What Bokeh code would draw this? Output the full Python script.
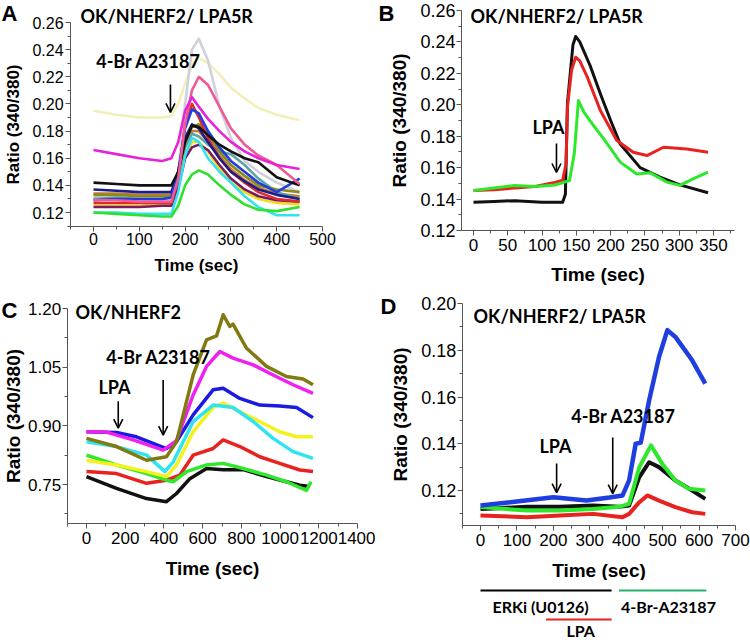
from bokeh.plotting import figure
from bokeh.models import Range1d, FixedTicker, PrintfTickFormatter, Label, Arrow, OpenHead
from bokeh.layouts import row, column
from bokeh.embed import file_html
from bokeh.resources import INLINE
from bokeh.core.properties import value

# ---------------- DATA ----------------
# Panel A (time grid shared by all traces)
A_TIME = [0, 50, 100, 150, 170, 185, 200, 215, 230, 250, 275, 300, 330, 360, 400, 450]
A_PALEYELLOW = [0.195, 0.192, 0.190, 0.190, 0.191, 0.200, 0.215, 0.228, 0.234, 0.230, 0.222, 0.212, 0.204, 0.197, 0.192, 0.188]
A_LIGHTGRAY = [0.131, 0.131, 0.130, 0.130, 0.130, 0.150, 0.200, 0.240, 0.248, 0.232, 0.198, 0.175, 0.158, 0.150, 0.142, 0.135]
A_SIENNA = [0.134, 0.134, 0.133, 0.133, 0.133, 0.146, 0.170, 0.180, 0.180, 0.172, 0.162, 0.152, 0.144, 0.138, 0.134, 0.132]
A_TEAL = [0.130, 0.131, 0.130, 0.130, 0.131, 0.145, 0.168, 0.178, 0.176, 0.170, 0.165, 0.163, 0.155, 0.145, 0.135, 0.130]
A_OLIVE = [0.133, 0.133, 0.132, 0.132, 0.132, 0.145, 0.172, 0.183, 0.185, 0.178, 0.165, 0.155, 0.147, 0.140, 0.137, 0.135]
A_YELLOW = [0.125, 0.125, 0.125, 0.126, 0.126, 0.140, 0.160, 0.172, 0.172, 0.165, 0.152, 0.142, 0.135, 0.130, 0.127, 0.126]
A_PURPLE = [0.124, 0.124, 0.124, 0.125, 0.125, 0.138, 0.160, 0.168, 0.170, 0.166, 0.155, 0.145, 0.137, 0.132, 0.129, 0.128]
A_RED = [0.127, 0.127, 0.127, 0.127, 0.127, 0.145, 0.185, 0.200, 0.190, 0.175, 0.160, 0.150, 0.142, 0.135, 0.130, 0.128]
A_NAVY = [0.137, 0.136, 0.135, 0.135, 0.135, 0.150, 0.175, 0.185, 0.182, 0.172, 0.160, 0.150, 0.143, 0.137, 0.133, 0.130]
A_BLUE = [0.129, 0.130, 0.130, 0.130, 0.131, 0.150, 0.182, 0.196, 0.193, 0.180, 0.168, 0.158, 0.150, 0.142, 0.135, 0.145]
A_BLACK = [0.142, 0.141, 0.140, 0.140, 0.140, 0.150, 0.172, 0.184, 0.183, 0.177, 0.170, 0.165, 0.160, 0.157, 0.146, 0.140]
A_HOTPINK = [0.129, 0.129, 0.128, 0.128, 0.128, 0.145, 0.185, 0.210, 0.220, 0.214, 0.198, 0.182, 0.170, 0.162, 0.155, 0.141]
A_MAGENTA = [0.166, 0.163, 0.160, 0.158, 0.160, 0.172, 0.195, 0.205, 0.198, 0.189, 0.180, 0.172, 0.165, 0.160, 0.155, 0.152]
A_CYAN = [0.120, 0.120, 0.119, 0.119, 0.119, 0.135, 0.162, 0.175, 0.172, 0.160, 0.150, 0.142, 0.132, 0.124, 0.118, 0.118]
A_GREEN = [0.120, 0.119, 0.118, 0.117, 0.117, 0.125, 0.140, 0.148, 0.151, 0.148, 0.140, 0.133, 0.126, 0.122, 0.121, 0.124]

# Panel B
B_BLACK_T = [0, 30, 60, 100, 130, 134, 137, 145, 149, 155, 170, 185, 200, 214, 243, 272, 301, 342]
B_BLACK_V = [0.138, 0.1385, 0.139, 0.138, 0.138, 0.143, 0.201, 0.238, 0.2435, 0.240, 0.225, 0.207, 0.190, 0.175, 0.160, 0.154, 0.149, 0.144]
B_RED_T = [0, 30, 60, 90, 120, 130, 135, 137, 143, 149, 155, 166, 185, 209, 233, 253, 277, 311, 342]
B_RED_V = [0.1455, 0.146, 0.147, 0.148, 0.1508, 0.152, 0.1626, 0.1985, 0.222, 0.2303, 0.228, 0.2176, 0.1964, 0.1773, 0.1698, 0.1677, 0.173, 0.1719, 0.1698]
B_GREEN_T = [0, 30, 60, 90, 120, 140, 147, 153, 161, 175, 190, 214, 238, 258, 282, 301, 321, 342]
B_GREEN_V = [0.1455, 0.147, 0.1487, 0.148, 0.149, 0.1518, 0.169, 0.2027, 0.1953, 0.1868, 0.1783, 0.1635, 0.156, 0.1567, 0.1508, 0.1487, 0.153, 0.1571]

# Panel C
C_BLACK_T = [0, 155, 310, 413, 465, 534, 620, 706, 809, 930, 1033, 1102, 1153]
C_BLACK_V = [0.770, 0.740, 0.714, 0.706, 0.727, 0.765, 0.791, 0.788, 0.788, 0.770, 0.757, 0.748, 0.745]
C_RED_T = [0, 155, 310, 413, 482, 551, 654, 706, 792, 895, 998, 1102, 1170]
C_RED_V = [0.783, 0.778, 0.753, 0.761, 0.774, 0.825, 0.842, 0.864, 0.847, 0.821, 0.804, 0.787, 0.783]
C_GREEN_T = [0, 155, 310, 413, 448, 517, 620, 706, 809, 930, 1033, 1136, 1160]
C_GREEN_V = [0.825, 0.800, 0.778, 0.761, 0.757, 0.783, 0.800, 0.804, 0.791, 0.774, 0.757, 0.735, 0.757]
C_YELLOW_T = [0, 155, 310, 413, 465, 551, 654, 706, 792, 895, 998, 1085, 1170]
C_YELLOW_V = [0.812, 0.800, 0.783, 0.770, 0.800, 0.885, 0.947, 0.958, 0.936, 0.911, 0.885, 0.872, 0.872]
C_CYAN_T = [0, 155, 310, 405, 448, 551, 654, 757, 861, 964, 1067, 1170]
C_CYAN_V = [0.859, 0.847, 0.825, 0.783, 0.808, 0.911, 0.953, 0.947, 0.911, 0.868, 0.834, 0.817]
C_BLUE_T = [0, 155, 258, 413, 465, 551, 654, 706, 792, 895, 998, 1085, 1170]
C_BLUE_V = [0.885, 0.883, 0.872, 0.842, 0.860, 0.928, 0.992, 0.996, 0.970, 0.953, 0.951, 0.947, 0.921]
C_MAGENTA_T = [0, 103, 241, 396, 465, 551, 620, 689, 757, 861, 964, 1067, 1170]
C_MAGENTA_V = [0.885, 0.884, 0.864, 0.838, 0.862, 0.979, 1.052, 1.090, 1.073, 1.056, 1.030, 1.005, 0.983]
C_OLIVE_T = [0, 155, 310, 413, 465, 551, 620, 672, 706, 740, 757, 826, 930, 1033, 1119, 1170]
C_OLIVE_V = [0.868, 0.847, 0.812, 0.821, 0.859, 1.030, 1.120, 1.130, 1.184, 1.154, 1.160, 1.099, 1.052, 1.026, 1.020, 1.005]

# Panel D
D_RED_T = [0, 127, 218, 309, 390, 408, 436, 458, 490, 535, 581, 617]
D_RED_V = [0.1093, 0.1086, 0.1093, 0.1100, 0.1086, 0.1100, 0.1150, 0.1179, 0.1157, 0.1129, 0.1107, 0.1100]
D_BLACK_T = [0, 127, 218, 309, 381, 408, 436, 463, 490, 535, 581, 617]
D_BLACK_V = [0.1121, 0.1130, 0.1130, 0.1136, 0.1130, 0.1136, 0.1257, 0.1321, 0.1300, 0.1243, 0.1200, 0.1164]
D_GREEN_T = [0, 127, 218, 309, 381, 408, 436, 468, 499, 535, 572, 617]
D_GREEN_V = [0.1129, 0.1114, 0.1114, 0.1121, 0.1130, 0.1143, 0.1300, 0.1393, 0.1314, 0.1243, 0.1207, 0.1200]
D_BLUE_T = [0, 82, 200, 291, 354, 390, 408, 426, 440, 463, 490, 513, 535, 581, 617]
D_BLUE_V = [0.1136, 0.1150, 0.1171, 0.1157, 0.1170, 0.1179, 0.1243, 0.1400, 0.1405, 0.1586, 0.1771, 0.1886, 0.1857, 0.1757, 0.1657]

# Treatment periods under panel D (sec)
ERKI_PERIOD = [0, 360]
LPA_PERIOD = [180, 360]
BR_PERIOD = [380, 620]

# Tick positions
A_XTICKS = [0, 100, 200, 300, 400, 500]
A_XMINOR = [-50, 50, 150, 250, 350, 450]
AB_YTICKS = [0.12, 0.14, 0.16, 0.18, 0.20, 0.22, 0.24, 0.26]
A_YMINOR = [0.11, 0.13, 0.15, 0.17, 0.19, 0.21, 0.23, 0.25]
B_YMINOR = [0.13, 0.15, 0.17, 0.19, 0.21, 0.23, 0.25]
B_XTICKS = [0, 50, 100, 150, 200, 250, 300, 350]
B_XMINOR = [25, 75, 125, 175, 225, 275, 325, 375]
C_XTICKS = [0, 200, 400, 600, 800, 1000, 1200, 1400]
C_XMINOR = [-100, 100, 300, 500, 700, 900, 1100, 1300]
C_YTICKS = [0.75, 0.90, 1.05, 1.20]
C_YMINOR = [0.675, 0.825, 0.975, 1.125]
D_XTICKS = [0, 100, 200, 300, 400, 500, 600, 700]
D_XMINOR = [-50, 50, 150, 250, 350, 450, 550, 650]
D_YTICKS = [0.12, 0.14, 0.16, 0.18, 0.20]
D_YMINOR = [0.11, 0.13, 0.15, 0.17, 0.19]

AXIS_FONT = "Liberation Sans"
NOTE_FONT = "Lato"


def lin(p0, v0, p1, v1, p):
    return v0 + (p - p0) * (v1 - v0) / (p1 - p0)


def make_fig(w, h, left, top, xa, ya, xloc, yloc, xb, yb, xt, xm, yt, ym,
             xtick_px, ytick_px, lab_px, xstand, ystand, xlab, ylab):
    # xa / ya: two (page pixel, value) anchors for each axis
    xr = (lin(*xa, left), lin(*xa, left + w))
    yr = (lin(*ya, top + h), lin(*ya, top))
    p = figure(width=w, height=h, min_border=0,
               x_range=Range1d(*xr), y_range=Range1d(*yr),
               output_backend="svg", toolbar_location=None,
               x_axis_label="Time (sec)", y_axis_label="Ratio (340/380)")
    p.grid.visible = False
    p.outline_line_color = None
    p.xaxis.fixed_location = yloc
    p.yaxis.fixed_location = xloc
    p.xaxis.bounds = xb
    p.yaxis.bounds = yb
    p.xaxis.ticker = FixedTicker(ticks=xt, minor_ticks=xm)
    p.yaxis.ticker = FixedTicker(ticks=yt, minor_ticks=ym)
    p.yaxis.formatter = PrintfTickFormatter(format="%.2f")
    for ax, tpx, st, ls in ((p.xaxis[0], xtick_px, xstand, xlab), (p.yaxis[0], ytick_px, ystand, ylab)):
        ax.axis_line_color = "#555555"
        ax.major_tick_line_color = "#555555"
        ax.minor_tick_line_color = "#555555"
        ax.major_tick_out = 5
        ax.major_tick_in = 0
        ax.minor_tick_out = 3
        ax.minor_tick_in = 0
        ax.major_label_text_font = AXIS_FONT
        ax.major_label_text_font_size = f"{tpx}px"
        ax.major_label_text_color = "black"
        ax.major_label_standoff = st
        ax.axis_label_text_font = AXIS_FONT
        ax.axis_label_text_font_size = f"{lab_px}px"
        ax.axis_label_text_font_style = "bold"
        ax.axis_label_text_color = "black"
        ax.axis_label_standoff = ls
    return p, (left, top + h)


def note(pp, text, px, py, size, font=NOTE_FONT, align="left"):
    p, (fl, fb) = pp
    p.add_layout(Label(x=px - fl, y=fb - py, x_units="screen", y_units="screen",
                       text=text, text_font=font, text_font_size=f"{size}px",
                       text_font_style="bold", text_align=align,
                       text_baseline="middle", text_color="black"))


def arrow(p, x, y0, y1):
    p.add_layout(Arrow(end=OpenHead(size=9, line_width=1.6, line_color="black"),
                       x_start=x, y_start=y0, x_end=x, y_end=y1,
                       line_width=1.6, line_color="black"))


ROW1_H = 292

# ---------------- Panel A ----------------
ppA = make_fig(375, ROW1_H, 0, 0, (93, 0, 322, 500), (212, 0.12, 22, 0.26),
               -50, 0.11, (-50, 500), (0.11, 0.26),
               A_XTICKS, A_XMINOR, AB_YTICKS, A_YMINOR, 16, 16, 17, 2, 2, 7, 6)
pA = ppA[0]
a_series = [
    (A_PALEYELLOW, "#f4efb8"), (A_LIGHTGRAY, "#cfd0dc"), (A_SIENNA, "#c27a3a"),
    (A_TEAL, "#5fa3a8"), (A_OLIVE, "#8c8a1c"), (A_YELLOW, "#f0dc1c"),
    (A_PURPLE, "#7c1a66"), (A_RED, "#de2b2b"), (A_NAVY, "#1c1c8a"),
    (A_BLUE, "#1f3ee0"), (A_BLACK, "#111111"), (A_HOTPINK, "#ee5a95"),
    (A_MAGENTA, "#e524d8"), (A_CYAN, "#2fe3f2"), (A_GREEN, "#2fe02f"),
]
for vals, col in a_series:
    pA.line(A_TIME, vals, line_color=col, line_width=2.6, line_join="round")
arrow(pA, 168, 0.2143, 0.1937)
note(ppA, "A", 1, 13, 22, font=AXIS_FONT)
note(ppA, "OK/NHERF2/ LPA5R", 80, 15, 18)
note(ppA, "4-Br A23187", 148, 60, 18, align="center")

# ---------------- Panel B ----------------
ppB = make_fig(375, ROW1_H, 375, 0, (473, 0, 713, 350), (230, 0.12, 10, 0.26),
               -17.5, 0.12, (-17.5, 380), (0.12, 0.26),
               B_XTICKS, B_XMINOR, AB_YTICKS, B_YMINOR, 17, 18, 19, 3, 1, 10, 7)
pB = ppB[0]
pB.line(B_BLACK_T, B_BLACK_V, line_color="#111111", line_width=3, line_join="round")
pB.line(B_RED_T, B_RED_V, line_color="#e8221f", line_width=3, line_join="round")
pB.line(B_GREEN_T, B_GREEN_V, line_color="#2ee82b", line_width=3, line_join="round")
arrow(pB, 121, 0.1754, 0.1569)
note(ppB, "B", 378, 13, 22, font=AXIS_FONT)
note(ppB, "OK/NHERF2/ LPA5R", 470, 15, 18)
note(ppB, "LPA", 548, 126, 18, align="center")

# ---------------- Panel C ----------------
ppC = make_fig(375, 642 - ROW1_H, 0, ROW1_H, (86, 0, 357, 1400), (484, 0.75, 308, 1.20),
               -100, 0.65, (-100, 1400), (0.65, 1.20),
               C_XTICKS, C_XMINOR, C_YTICKS, C_YMINOR, 17, 17, 19, 3, 1, 11, 1)
pC = ppC[0]
c_series = [
    (C_BLACK_T, C_BLACK_V, "#111111"), (C_RED_T, C_RED_V, "#e8221f"),
    (C_GREEN_T, C_GREEN_V, "#2ee82b"), (C_YELLOW_T, C_YELLOW_V, "#f2f21c"),
    (C_CYAN_T, C_CYAN_V, "#2fe3f2"), (C_BLUE_T, C_BLUE_V, "#1a1ae0"),
    (C_MAGENTA_T, C_MAGENTA_V, "#f020f0"), (C_OLIVE_T, C_OLIVE_V, "#807a10"),
]
for tt, vv, col in c_series:
    pC.line(tt, vv, line_color=col, line_width=3.5, line_join="round")
arrow(pC, 164, 0.963, 0.894)
arrow(pC, 396, 1.017, 0.876)
note(ppC, "C", 1, 310, 22, font=AXIS_FONT)
note(ppC, "OK/NHERF2", 75, 311, 18)
note(ppC, "4-Br A23187", 158, 356, 18, align="center")
note(ppC, "LPA", 114, 386, 18, align="center")

# ---------------- Panel D ----------------
ppD = make_fig(375, 580 - ROW1_H, 375, ROW1_H, (480, 0, 735, 700), (490, 0.12, 303, 0.20),
               -50, 0.105, (-50, 700), (0.105, 0.20),
               D_XTICKS, D_XMINOR, D_YTICKS, D_YMINOR, 17, 18, 19, 3, 1, 11, 7)
pD = ppD[0]
pD.line(D_RED_T, D_RED_V, line_color="#e8221f", line_width=4, line_join="round")
pD.line(D_BLACK_T, D_BLACK_V, line_color="#111111", line_width=4, line_join="round")
pD.line(D_GREEN_T, D_GREEN_V, line_color="#2ee82b", line_width=4, line_join="round")
pD.line(D_BLUE_T, D_BLUE_V, line_color="#1f3ee0", line_width=4.5, line_join="round")
arrow(pD, 209, 0.1316, 0.1191)
arrow(pD, 363, 0.1427, 0.1187)
note(ppD, "D", 380, 306, 22, font=AXIS_FONT)
note(ppD, "OK/NHERF2/ LPA5R", 473, 315, 18)
note(ppD, "4-Br A23187", 623, 415, 18, align="center")
note(ppD, "LPA", 555, 445, 18, align="center")

# treatment bars below D (shares D's time axis; y in pixels from the strip top)
pL = figure(width=375, height=62, min_border=0, x_range=pD.x_range,
            y_range=Range1d(62, 0), output_backend="svg", toolbar_location=None)
pL.axis.visible = False
pL.grid.visible = False
pL.outline_line_color = None
pL.line(ERKI_PERIOD, [10, 10], line_color="black", line_width=2)
pL.line(BR_PERIOD, [10, 10], line_color="#22b06a", line_width=2)
pL.line(LPA_PERIOD, [39, 39], line_color="#e8221f", line_width=2)
txt = dict(text_font=value(NOTE_FONT), text_font_size="16px", text_font_style="bold",
           text_align="center", text_baseline="middle", text_color="black")
pL.text([sum(ERKI_PERIOD) / 2 - 15], [26], text=["ERKi (U0126)"], **txt)
pL.text([sum(BR_PERIOD) / 2 + 16], [26], text=["4-Br-A23187"], **txt)
pL.text([sum(LPA_PERIOD) / 2 + 5], [50], text=["LPA"], **txt)

layout = column(row(pA, pB), row(pC, column(pD, pL)))
open("out.html", "w").write(file_html(layout, INLINE))
